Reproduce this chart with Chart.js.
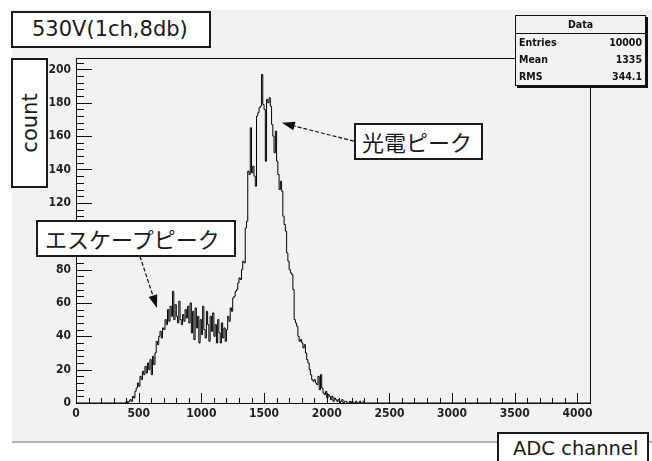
<!DOCTYPE html>
<html>
<head>
<meta charset="utf-8">
<script src="https://cdn.jsdelivr.net/npm/chart.js@4.4.1/dist/chart.umd.min.js"></script>
<style>
  html, body { margin:0; padding:0; background:#ffffff; width:652px; height:461px; overflow:hidden; }
  #bg { position:absolute; left:12px; top:10px; width:640px; height:431px; background:#f2f2f2; border-bottom:2px solid #b4b4b4; }
  #c { position:absolute; left:0; top:0; }
  .box { position:absolute; background:#ffffff; border:2px solid #1a1a1a; box-sizing:border-box; color:#1a1a1a; white-space:nowrap; }
  .lat { font-family:"DejaVu Sans", sans-serif; font-size:20px; }
  .cjk { font-family:"Noto Sans CJK JP", sans-serif; font-size:22px; }
  #title { left:11px; top:11px; width:200px; height:37px; line-height:33px; padding-left:19px; font-size:21px; }
  #count { left:11px; top:58px; width:37px; height:130px; font-size:21px; }
  #count span { position:absolute; left:50%; top:50%; transform:translate(-50%,-50%) rotate(-90deg); }
  #adc { left:497px; top:432px; width:152px; height:34px; line-height:30px; padding-left:14px; font-size:19.5px; }
  #photo { left:354px; top:123px; width:129px; height:37px; line-height:32px; padding-left:6px; }
  #escape { left:36px; top:220px; width:200px; height:37px; line-height:32px; padding-left:7px; }
  #stats { position:absolute; left:515px; top:15px; width:131px; height:71px; background:#f2f2f2; border:1px solid #111; box-shadow:2px 2px 0 #111; box-sizing:border-box;
           font-family:"Liberation Sans Narrow","DejaVu Sans Condensed","Liberation Sans",sans-serif; font-weight:bold; font-size:10.5px; color:#111; }
  #stats .hd { height:17px; line-height:17px; text-align:center; border-bottom:1px solid #111; }
  #stats .row { height:17px; line-height:17px; padding:0 3px; display:flex; justify-content:space-between; }
</style>
</head>
<body>
<div id="bg"></div>
<canvas id="c" width="652" height="461"></canvas>
<div class="box lat" id="title">530V(1ch,8db)</div>
<div class="box lat" id="count"><span>count</span></div>
<div class="box lat" id="adc">ADC channel</div>
<div class="box cjk" id="photo">光電ピーク</div>
<div class="box cjk" id="escape">エスケープピーク</div>
<div id="stats">
  <div class="hd">Data</div>
  <div class="row"><span>Entries</span><span>10000</span></div>
  <div class="row"><span>Mean</span><span>1335</span></div>
  <div class="row"><span>RMS</span><span>344.1</span></div>
</div>
<script>
// ---- data (ADC histogram, 10-channel bins) ----
const binWidth = 10;
const firstBinLow = 400;
const xMax = 4100;
const yMax = 206.85;
const xTickValues = [0, 500, 1000, 1500, 2000, 2500, 3000, 3500, 4000];
const yTickValues = [0, 20, 40, 60, 80, 100, 120, 140, 160, 180, 200];
const counts = [
  // 400-490
  0, 1, 0, 1, 2, 1, 4, 3, 7, 9,
  // 500-590
  12, 10, 16, 14, 19, 17, 22, 18, 24, 20,
  // 600-690
  26, 17, 28, 23, 30, 37, 35, 40, 43, 39,
  // 700-790
  45, 44, 50, 47, 56, 49, 58, 52, 67, 50,
  // 800-890
  59, 52, 48, 61, 50, 47, 53, 49, 56, 51,
  // 900-990
  58, 48, 60, 42, 55, 38, 57, 45, 52, 36,
  // 1000-1090
  50, 41, 58, 44, 39, 55, 47, 37, 52, 43,
  // 1100-1190
  54, 40, 47, 36, 50, 42, 36, 48, 39, 45,
  // 1200-1290
  37, 44, 52, 49, 57, 55, 63, 64, 67, 68,
  // 1300-1390
  72, 75, 74, 80, 85, 84, 105, 109, 139, 137,
  // 1400-1490
  165, 138, 142, 136, 130, 172, 174, 177, 178, 197,
  // 1500-1590
  179, 176, 145, 182, 180, 183, 178, 167, 160, 150,
  // 1600-1690
  163, 145, 137, 128, 133, 127, 112, 107, 103, 90,
  // 1700-1790
  85, 80, 78, 77, 68, 50, 48, 46, 40, 37,
  // 1800-1890
  38, 36, 33, 35, 30, 26, 24, 20, 17, 14,
  // 1900-1990
  13, 14, 12, 11, 16, 8, 17, 9, 6, 5,
  // 2000-2090
  7, 3, 5, 4, 2, 4, 1, 3, 2, 1,
  // 2100-2190
  2, 0, 1, 2, 0, 1, 1, 0, 0, 1,
  // 2200-2300
  0, 1, 0, 0, 1, 0, 0, 1, 0, 0, 1
];
// annotation arrows (data coordinates: tail -> tip)
const arrows = [
  { from: [2216, 157], to: [1642, 168] },
  { from: [510, 88], to: [646, 57] }
];

const points = [{ x: 0, y: 0 }];
counts.forEach((c, i) => points.push({ x: firstBinLow + i * binWidth, y: c }));
points.push({ x: firstBinLow + counts.length * binWidth, y: 0 });
points.push({ x: xMax, y: 0 });

const tickFont = { family: '"Liberation Sans Narrow","DejaVu Sans Condensed","Liberation Sans",sans-serif', size: 12, weight: 'bold' };

const rootFrame = {
  id: 'rootFrame',
  afterDraw(chart) {
    const { ctx, chartArea: a, scales: { x, y } } = chart;
    ctx.save();
    ctx.strokeStyle = '#111';
    ctx.lineWidth = 1;
    ctx.strokeRect(Math.round(a.left) + 0.5, Math.round(a.top) + 0.5, Math.round(a.right - a.left), Math.round(a.bottom - a.top));
    ctx.beginPath();
    for (let v = 0; v <= xMax; v += 100) {
      const px = Math.round(x.getPixelForValue(v)) + 0.5;
      const len = v % 500 === 0 ? 10 : 5;
      ctx.moveTo(px, a.bottom);
      ctx.lineTo(px, a.bottom - len);
    }
    for (let v = 0; v <= yMax; v += 4) {
      const py = Math.round(y.getPixelForValue(v)) + 0.5;
      const len = v % 20 === 0 ? 16 : 8;
      ctx.moveTo(a.left, py);
      ctx.lineTo(a.left + len, py);
    }
    ctx.stroke();
    // arrows
    arrows.forEach(ar => {
      const x0 = x.getPixelForValue(ar.from[0]), y0 = y.getPixelForValue(ar.from[1]);
      const x1 = x.getPixelForValue(ar.to[0]), y1 = y.getPixelForValue(ar.to[1]);
      const ang = Math.atan2(y1 - y0, x1 - x0);
      const hl = 13, hw = 4.5;
      const bx = x1 - hl * Math.cos(ang), by = y1 - hl * Math.sin(ang);
      ctx.setLineDash([4, 2]);
      ctx.lineWidth = 1.2;
      ctx.beginPath();
      ctx.moveTo(x0, y0);
      ctx.lineTo(bx, by);
      ctx.stroke();
      ctx.setLineDash([]);
      ctx.fillStyle = '#111';
      ctx.beginPath();
      ctx.moveTo(x1, y1);
      ctx.lineTo(bx + hw * Math.sin(ang), by - hw * Math.cos(ang));
      ctx.lineTo(bx - hw * Math.sin(ang), by + hw * Math.cos(ang));
      ctx.closePath();
      ctx.fill();
    });
    ctx.restore();
  }
};

new Chart(document.getElementById('c'), {
  type: 'line',
  data: {
    datasets: [{
      data: points,
      stepped: 'after',
      borderColor: '#000',
      borderWidth: 1,
      pointRadius: 0,
      fill: false,
      tension: 0
    }]
  },
  options: {
    responsive: false,
    animation: false,
    layout: { padding: { top: 58, right: 62, left: 0, bottom: 0 } },
    plugins: { legend: { display: false }, tooltip: { enabled: false } },
    scales: {
      x: {
        type: 'linear', min: 0, max: xMax,
        grid: { display: false, drawTicks: false },
        border: { display: false },
        ticks: { font: tickFont, color: '#222', padding: 4, maxRotation: 0, autoSkip: false, callback: v => String(v) },
        afterBuildTicks: s => { s.ticks = xTickValues.map(v => ({ value: v })); },
        afterFit: s => { s.height = 58; }
      },
      y: {
        type: 'linear', min: 0, max: yMax,
        grid: { display: false, drawTicks: false },
        border: { display: false },
        ticks: { font: tickFont, color: '#222', padding: 5, autoSkip: false, callback: v => String(v) },
        afterBuildTicks: s => { s.ticks = yTickValues.map(v => ({ value: v })); },
        afterFit: s => { s.width = 76; }
      }
    }
  },
  plugins: [rootFrame]
});
</script>
</body>
</html>
